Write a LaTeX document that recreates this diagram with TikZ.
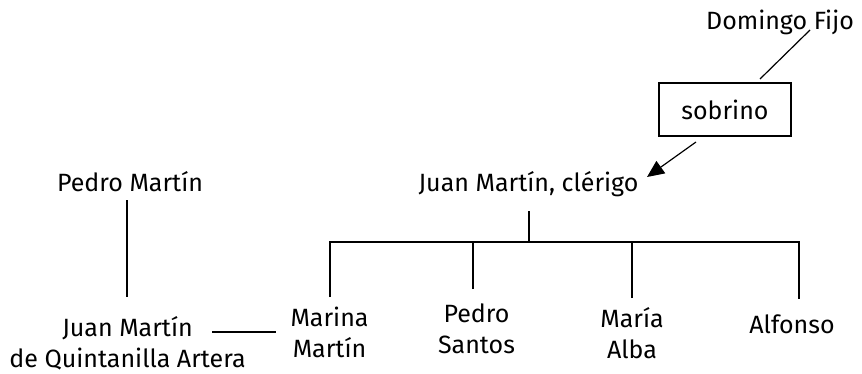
\documentclass[tikz,border=0pt]{standalone}
\usepackage{fontspec}
\setmainfont{Fira Sans}
\usetikzlibrary{arrows.meta}
\begin{document}
\begin{tikzpicture}[x=1pt,y=-1pt,
  lbl/.style={inner sep=0pt,outer sep=0pt,align=center,anchor=base,font=\fontsize{25}{31}\selectfont},
  boxed/.style={draw,line width=1.2pt,minimum width=132pt,minimum height=53pt,inner sep=0pt,font=\fontsize{25}{31}\selectfont},
  ln/.style={line width=1.2pt}]
\useasboundingbox (0,0) rectangle (862,373);
\node[lbl] (df) at (780,29) {Domingo Fijo};
\node[boxed] (sob) at (725,109.5) {sobrino};
\node[lbl] (jmc) at (528.5,191) {Juan Martín, clérigo};
\node[lbl] (pm) at (130,191) {Pedro Martín};
\node[lbl] (jm) at (127.5,367) {Juan Martín\\de Quintanilla Artera};
\node[lbl] (mm) at (329.5,357) {Marina\\Martín};
\node[lbl] (ps) at (476.5,353) {Pedro\\Santos};
\node[lbl] (ma) at (632,358) {María\\Alba};
\node[lbl] (al) at (792,333) {Alfonso};
% connectors
\coordinate (dfe) at (810,30);
\coordinate (sobt) at (760,79);
\draw[ln] (dfe) -- (sobt);
\coordinate (sobb) at (696,142);
\coordinate (jmcend) at (647,177);
\draw[ln,-{Triangle[length=17pt,width=15pt]}] (sobb) -- (jmcend);
\coordinate (top) at (529,211);
\coordinate (bar) at (529,242);
\draw[ln] (top) -- (bar);
\coordinate (d1) at (330,297);
\coordinate (d2) at (473,289);
\coordinate (d3) at (632,298);
\coordinate (d4) at (799,299);
\draw[ln] (d1) |- (bar) -| (d4);
\draw[ln] (d2) -- (d2 |- bar);
\draw[ln] (d3) -- (d3 |- bar);
\coordinate (pmb) at (127,200);
\coordinate (jmt) at (127,297);
\draw[ln] (pmb) -- (jmt);
\coordinate (hl) at (212,332);
\coordinate (hr) at (276,332);
\draw[ln] (hl) -- (hr);
\end{tikzpicture}
\end{document}
